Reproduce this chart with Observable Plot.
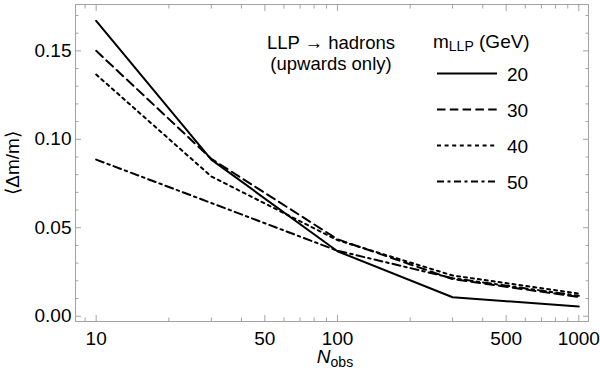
<!DOCTYPE html>
<html><head><meta charset="utf-8">
<script src="https://cdn.jsdelivr.net/npm/d3@7"></script>
<script src="https://cdn.jsdelivr.net/npm/@observablehq/plot@0.6"></script>
<style>body{margin:0;background:#fff} #chart{width:600px;height:382px}</style>
</head><body><div id="chart"></div>
<script>
// ---- data ----
const nObs = [10, 30, 100, 300, 1000];
const massLabels = ["20", "30", "40", "50"];
const m20 = [0.167, 0.0885, 0.0367, 0.0107, 0.0055];
const m30 = [0.150, 0.0890, 0.0435, 0.0210, 0.0108];
const m40 = [0.1366, 0.0790, 0.0430, 0.0230, 0.0128];
const m50 = [0.0885, 0.0640, 0.0370, 0.0215, 0.0115];
const xMajorTicks = [10, 50, 100, 500, 1000];
const xTickLabels = ["10", "50", "100", "500", "1000"];
const xMinorTicks = [9, 20, 30, 40, 60, 70, 80, 90, 200, 300, 400, 600, 700, 800, 900];
const yMajorTicks = [0, 0.05, 0.10, 0.15];
const yMinorTicks = [0.01, 0.02, 0.03, 0.04, 0.06, 0.07, 0.08, 0.09, 0.11, 0.12, 0.13, 0.14, 0.16, 0.17];
const titleLine1 = "LLP → hadrons";
const titleLine2 = "(upwards only)";

// ---- styles ----
const seriesValues = [m20, m30, m40, m50];
const dashStyles = [null, "9,5", "3,4", "8,4,2.5,4"];
const legendDash = [null, "8.5,4.3", "4,3.6", "7,3.5,3,3.5"];
const gray = "#a3a3a3";
const font = "'Liberation Sans', Arial, Helvetica, sans-serif";

const lineMarks = seriesValues.map((vals, s) =>
  Plot.line(nObs, {x: d => d, y: (d, i) => vals[i], stroke: "black", strokeWidth: 2,
    strokeDasharray: dashStyles[s], strokeLinejoin: "round"}));

const tickAxes = [];
for (const anchor of ["bottom", "top"]) {
  tickAxes.push(Plot.axisX({ticks: xMajorTicks, anchor, tickSize: -6, fill: "none", stroke: gray, label: null}));
  tickAxes.push(Plot.axisX({ticks: xMinorTicks, anchor, tickSize: -3.5, fill: "none", stroke: gray, label: null}));
}
for (const anchor of ["left", "right"]) {
  tickAxes.push(Plot.axisY({ticks: yMajorTicks, anchor, tickSize: -6, fill: "none", stroke: gray, label: null}));
  tickAxes.push(Plot.axisY({ticks: yMinorTicks, anchor, tickSize: -3.5, fill: "none", stroke: gray, label: null}));
}

const chart = Plot.plot({
  width: 600, height: 382,
  marginLeft: 75, marginRight: 12, marginTop: 4, marginBottom: 61,
  x: {type: "log", domain: [8.21, 1097]},
  y: {domain: [-0.003, 0.1762]},
  style: {fontFamily: font, fontSize: "19px", color: "black", background: "white", overflow: "visible"},
  marks: [
    Plot.frame({stroke: gray}),
    ...tickAxes,
    Plot.text(xMajorTicks, {x: d => d, text: (d, i) => xTickLabels[i], frameAnchor: "bottom",
      lineAnchor: "top", dy: 10, fill: "black", fontSize: 19}),
    Plot.axisY({ticks: yMajorTicks, anchor: "left", tickSize: 0, tickPadding: 4, tickFormat: d3.format(".2f"),
      label: "⟨Δm/m⟩", labelAnchor: "center", labelArrow: "none", labelOffset: 70}),
    ...lineMarks
  ]
});
document.getElementById("chart").appendChild(chart);

// ---- x label with subscript, and legend ----
const svg = d3.select(chart);
const xl = svg.append("text").attr("x", 335).attr("y", 363).attr("text-anchor", "middle")
  .attr("font-family", font).attr("font-size", 19).attr("fill", "black");
xl.append("tspan").attr("font-style", "italic").text("N");
xl.append("tspan").attr("font-size", 14).attr("dy", 4).text("obs");

const lg = svg.append("g").attr("font-family", font).attr("font-size", 19).attr("fill", "black")
  .attr("text-anchor", "start");
lg.append("text").attr("x", 331).attr("y", 48.5).attr("font-size", 18.5).attr("text-anchor", "middle").text(titleLine1);
lg.append("text").attr("x", 331).attr("y", 69.5).attr("font-size", 18.5).attr("text-anchor", "middle").text(titleLine2);
const mt = lg.append("text").attr("x", 433).attr("y", 48);
mt.append("tspan").text("m");
mt.append("tspan").attr("font-size", 14).attr("dy", 3).text("LLP");
mt.append("tspan").attr("dy", -3).text(" (GeV)");
massLabels.forEach((m, i) => {
  const y = 73.5 + i * 36;
  const ln = lg.append("line").attr("x1", 437).attr("x2", 497).attr("y1", y).attr("y2", y)
    .attr("stroke", "black").attr("stroke-width", 2);
  if (legendDash[i]) ln.attr("stroke-dasharray", legendDash[i]);
  lg.append("text").attr("x", 507).attr("y", y + 7).text(m);
});
</script>
</body></html>
